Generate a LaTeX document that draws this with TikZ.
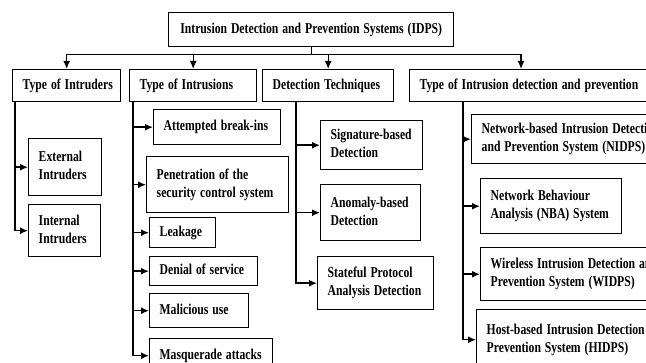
\documentclass[tikz,border=0pt]{standalone}
\usepackage{fontspec}
\usepackage{graphicx}
\setmainfont{Liberation Serif}
\usetikzlibrary{arrows.meta}
\newcommand\boxtext[1]{\scalebox{0.78}[1]{\begin{tabular}{@{}l@{}}#1\end{tabular}}}
\begin{document}
\begin{tikzpicture}[x=1pt,y=-1pt,
  box/.style={draw,line width=1.4pt,anchor=north west,align=left,inner xsep=10pt,inner ysep=2pt,
    font=\fontsize{15}{18}\selectfont\bfseries},
  arr/.style={line width=1.4pt,-{Latex[length=8pt,width=7pt]}}]
  \useasboundingbox (0,0) rectangle (646,363);
  \clip (0,0) rectangle (646,363);
  \node[box,align=center,text width=265pt,minimum height=34pt] (idps) at (168,12) {\boxtext{Intrusion Detection and Prevention Systems (IDPS)}};
  \node[box,text width=88pt,minimum height=32pt] (intruders) at (12,69) {\boxtext{Type of Intruders}};
  \node[box,text width=107pt,minimum height=32pt] (intrusions) at (129,69) {\boxtext{Type of Intrusions}};
  \node[box,text width=111pt,minimum height=32pt] (techniques) at (262,69) {\boxtext{Detection Techniques}};
  \node[box,text width=240pt,minimum height=32pt] (idpkinds) at (409,69) {\boxtext{Type of Intrusion detection and prevention}};
  \coordinate (idptop) at ([xshift=112pt]idpkinds.north west);
  \node[box,text width=53pt,minimum height=57pt] (external) at (28,138) {\boxtext{External\\Intruders}};
  \node[box,text width=52pt,minimum height=52pt] (internal) at (28,204) {\boxtext{Internal\\Intruders}};
  \node[box,text width=107pt,minimum height=35pt] (attempted) at (153,109) {\boxtext{Attempted break-ins}};
  \node[box,text width=122pt,minimum height=56pt] (penetration) at (146,156) {\boxtext{Penetration of the\\security control system}};
  \node[box,text width=46pt,minimum height=30pt] (leakage) at (149,217) {\boxtext{Leakage}};
  \node[box,text width=88pt,minimum height=29pt] (denial) at (149,256) {\boxtext{Denial of service}};
  \node[box,text width=79pt,minimum height=34pt] (malicious) at (149,293) {\boxtext{Malicious use}};
  \node[box,text width=103pt,minimum height=34pt] (masquerade) at (149,338) {\boxtext{Masquerade attacks}};
  \node[box,text width=82pt,minimum height=49pt] (signature) at (320,120) {\boxtext{Signature-based\\Detection}};
  \node[box,text width=80pt,minimum height=56pt] (anomaly) at (320,184) {\boxtext{Anomaly-based\\Detection}};
  \node[box,text width=96pt,minimum height=53pt] (stateful) at (317,256) {\boxtext{Stateful Protocol\\Analysis Detection}};
  \node[box,text width=215pt,minimum height=49pt] (nidps) at (471,114) {\boxtext{Network-based Intrusion Detection\\and Prevention System (NIDPS)}};
  \node[box,text width=121pt,minimum height=55pt] (nba) at (480,178) {\boxtext{Network Behaviour\\Analysis (NBA) System}};
  \node[box,text width=215pt,minimum height=53pt] (widps) at (480,247) {\boxtext{Wireless Intrusion Detection and\\Prevention System (WIDPS)}};
  \node[box,text width=215pt,minimum height=60pt] (hidps) at (476,309) {\boxtext{Host-based Intrusion Detection and\\Prevention System (HIDPS)}};
  \foreach \c in {intruders.north,intrusions.north,techniques.north,idptop}
    \draw[arr] (idps.south) -- ++(0,7) -| (\c);
  \foreach \c in {external,internal}
    \draw[arr] (intruders.south west) ++(3,0) |- (\c.west);
  \foreach \c in {attempted,penetration,leakage,denial,malicious,masquerade}
    \draw[arr] (intrusions.south west) ++(4,0) |- (\c.west);
  \foreach \c in {signature,anomaly,stateful}
    \draw[arr] (techniques.south west) ++(34,0) |- (\c.west);
  \foreach \c in {nidps,nba,widps,hidps}
    \draw[arr] (idpkinds.south west) ++(54,0) |- (\c.west);
\end{tikzpicture}
\end{document}
